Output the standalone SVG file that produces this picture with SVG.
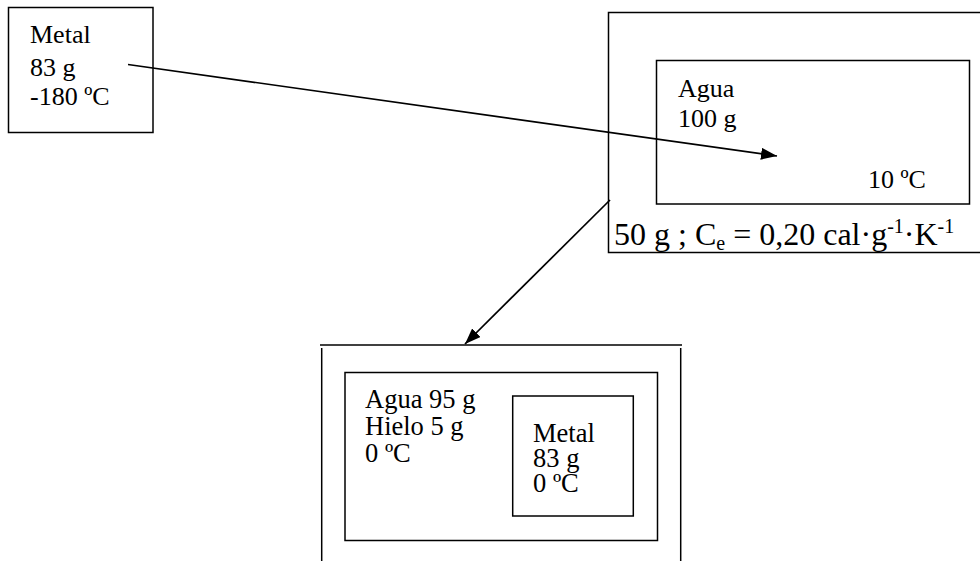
<svg xmlns="http://www.w3.org/2000/svg" width="980" height="561" viewBox="0 0 980 561">
<style>
text{font-family:"Liberation Serif","Times New Roman",serif;fill:#000}
.t{font-size:26px}
.u{font-size:26.5px}
.b{fill:none;stroke:#000;stroke-width:1.5}
.c{fill:none;stroke:#000;stroke-width:1.7}
.big{font-size:32px}
.s{font-size:20px}
</style>
<defs>
<marker id="ah" viewBox="0 0 16 12" refX="16" refY="6" markerWidth="16" markerHeight="12" markerUnits="userSpaceOnUse" orient="auto">
<path d="M0,0 L16,6 L0,12 Z" fill="#000"/>
</marker>
</defs>
<g id="metal-initial">
<rect class="b" x="8.5" y="7.5" width="144.5" height="125"/>
<text class="t" x="30" y="43">Metal</text>
<text class="t" x="30" y="76">83 g</text>
<text class="t" x="30" y="105">-180 ºC</text>
</g>
<g id="calorimeter">
<rect class="b" x="608.5" y="12.5" width="380" height="240"/>
<rect class="b" x="656.5" y="60.5" width="313" height="143.5"/>
<text class="t" x="678" y="97">Agua</text>
<text class="t" x="678" y="127">100 g</text>
<text class="t" x="868" y="188">10 ºC</text>
<text class="big" x="614" y="245">50 g ; C<tspan class="s" dy="5">e</tspan><tspan dy="-5"> = 0,20 cal·g</tspan><tspan class="s" dy="-12">-1</tspan><tspan dy="12">·K</tspan><tspan class="s" dy="-12">-1</tspan></text>
</g>
<g id="final-state">
<line class="b" x1="320" y1="345" x2="682" y2="345"/>
<line class="b" x1="321.7" y1="348" x2="321.7" y2="561"/>
<line class="b" x1="680.7" y1="348" x2="680.7" y2="561"/>
<rect class="b" x="345" y="372.5" width="312.5" height="168"/>
<text class="u" x="365" y="408">Agua 95 g</text>
<text class="u" x="365" y="435">Hielo 5 g</text>
<text class="u" x="365" y="461.5">0 ºC</text>
</g>
<g id="metal-final">
<rect class="b" x="512.7" y="396" width="120.6" height="120"/>
<text class="u" x="533" y="441.5">Metal</text>
<text class="u" x="533" y="467">83 g</text>
<text class="u" x="533" y="491.5">0 ºC</text>
</g>
<g id="connectors">
<line class="c" x1="128" y1="64.5" x2="777" y2="156" marker-end="url(#ah)"/>
<line class="c" x1="610" y1="200" x2="465" y2="344" marker-end="url(#ah)"/>
</g>
</svg>
